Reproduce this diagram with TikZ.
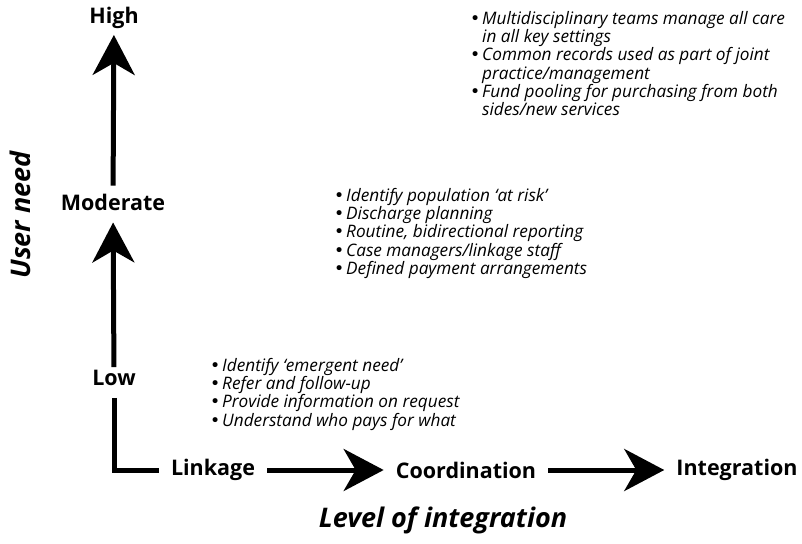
\documentclass[tikz,border=0pt]{standalone}
\usepackage{fontspec}
\setmainfont{Open Sans}
\newfontfamily\bulletfont{DejaVu Sans}
\usetikzlibrary{arrows.meta}

\newcommand{\bitem}[1]{\makebox[12pt][l]{\bulletfont\textbullet}\textit{#1}}
\newcommand{\bcont}[1]{\hspace*{12pt}\textit{#1}}

\begin{document}
\begin{tikzpicture}[x=1pt, y=-1pt,
        level/.style={font=\fontsize{21.5}{25}\selectfont\bfseries, inner sep=12pt},
        axislabel/.style={font=\fontsize{27}{30}\selectfont\bfseries\itshape},
        bullets/.style={font=\fontsize{17.2}{18.3}\selectfont, align=left,
            anchor=north west, inner sep=0pt},
        bigarrow/.style={line width=5pt,
            -{Stealth[length=40pt, width=42pt, inset=12pt]}}]
            \useasboundingbox (0, 0) rectangle (802, 543);

            \node [level] (high) at (114, 18) {High};
            \node [level] (moderate) at (113, 202) {Moderate};
            \node [level] (low) at (114, 378) {Low};
            \node [level] (linkage) at (213, 470) {Linkage};
            \node [level] (coordination) at (466, 470) {Coordination};
            \node [level] (integration) at (737, 470) {Integration};

            \node [axislabel, rotate=90] (userneed) at (20, 215) {User need};
            \node [axislabel] (levelint) at (443, 520) {Level of integration};

            \draw [bigarrow, shorten >=-6pt, shorten <=-4pt] (moderate) -- (high);
            \draw [bigarrow, shorten <=-9pt] (low) -- (moderate);
            \draw [line width=5pt] (low) |- (linkage);
            \draw [bigarrow] (linkage) -- (coordination);
            \draw [bigarrow] (coordination) -- (integration);

            \node [bullets] (linkagelist) at (210, 358) {%
                \bitem{Identify `emergent need'}\\
                \bitem{Refer and follow-up}\\
                \bitem{Provide information on request}\\
                \bitem{Understand who pays for what}};
            \node [bullets] (coordlist) at (334, 188) {%
                \bitem{Identify population `at risk'}\\
                \bitem{Discharge planning}\\
                \bitem{Routine, bidirectional reporting}\\
                \bitem{Case managers/linkage staff}\\
                \bitem{Defined payment arrangements}};
            \node [bullets] (integlist) at (470, 11) {%
                \bitem{Multidisciplinary teams manage all care}\\
                \bcont{in all key settings}\\
                \bitem{Common records used as part of joint}\\
                \bcont{practice/management}\\
                \bitem{Fund pooling for purchasing from both}\\
                \bcont{sides/new services}};
        \end{tikzpicture}
\end{document}
